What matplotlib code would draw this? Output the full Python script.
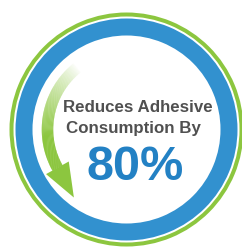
import numpy as np
import matplotlib
matplotlib.use('Agg')
import matplotlib.pyplot as plt
from matplotlib.patches import Wedge, Polygon
from matplotlib.colors import to_rgb

# Content
line1 = 'Reduces Adhesive'
line2 = 'Consumption By'
reduction_pct = 80

# Colours
GREEN = '#8CC63F'
BLUE = '#3291CF'
BLUE_TEXT = '#2381C4'
GRAY = '#505050'

W, H = 242, 248
fig = plt.figure(figsize=(W / 100, H / 100), dpi=100)
ax = fig.add_axes([0, 0, 1, 1])
ax.set_xlim(0, W)
ax.set_ylim(0, H)
ax.set_aspect('equal')
ax.axis('off')

cx, cy = 126.5, H - 129.5

# outer green ring and blue ring
ax.add_patch(Wedge((cx, cy), 117, 0, 360, width=4, color=GREEN, lw=0))
ax.add_patch(Wedge((cx, cy), 111, 0, 360, width=17, color=BLUE, lw=0))

# curved arrow, fading from white at the top into green
r_mid, shaft_w = 79, 11.5
a_start, a_full, a_end = 128, 185, 209
green = np.array(to_rgb(GREEN))
white = np.ones(3)
angles = np.linspace(a_start, a_end, 120)
for a0, a1 in zip(angles[:-1], angles[1:]):
    t = min(1.0, max(0.0, (a0 - a_start) / (a_full - a_start)))
    col = white + (green - white) * t ** 0.8
    ax.add_patch(Wedge((cx, cy), r_mid + shaft_w / 2, a0, a1 + 0.3,
                       width=shaft_w, color=col, lw=0))

th = np.radians(a_end)
base = np.array([cx + r_mid * np.cos(th), cy + r_mid * np.sin(th)])
tang = np.array([-np.sin(th), np.cos(th)])
norm = np.array([np.cos(th), np.sin(th)])
head_len, head_half = 34, 13
tip = base + tang * head_len
ax.add_patch(Polygon([base + norm * head_half, tip, base - norm * head_half],
                     closed=True, color=GREEN, lw=0))

# text
ax.text(137.5, H - 108, line1, ha='center', va='center', color=GRAY,
        fontsize=12.2, fontweight='bold', family='Liberation Sans')
ax.text(133.5, H - 128.5, line2, ha='center', va='center', color=GRAY,
        fontsize=12.2, fontweight='bold', family='Liberation Sans')
ax.text(135.5, H - 167, f'{reduction_pct}%', ha='center', va='center',
        color=BLUE_TEXT, fontsize=35, fontweight='bold', family='Liberation Sans')

fig.savefig('out.png', dpi=100, facecolor='white')
